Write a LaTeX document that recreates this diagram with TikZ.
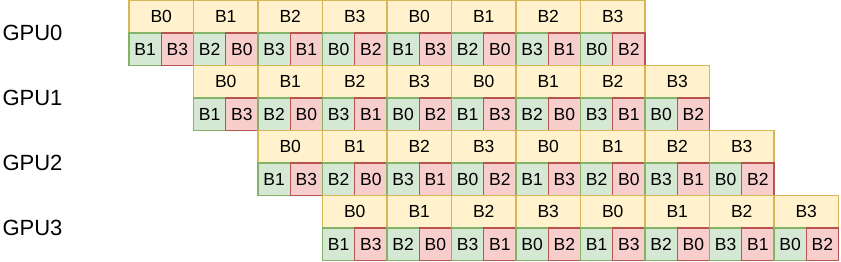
\documentclass[tikz,border=0pt]{standalone}
\usepackage{fontspec}
\setmainfont{Liberation Sans}
\definecolor{ylwfill}{HTML}{FFF2CC}
\definecolor{ylwdraw}{HTML}{D6B656}
\definecolor{grnfill}{HTML}{D5E8D4}
\definecolor{grndraw}{HTML}{82B366}
\definecolor{redfill}{HTML}{F8CECC}
\definecolor{reddraw}{HTML}{B85450}
\begin{document}
\begin{tikzpicture}[x=1pt,y=-1pt,
  cell/.style={draw, line width=1.3pt, inner sep=0pt, outer sep=0pt, anchor=north west,
    minimum height=32.5pt, font=\fontsize{17.5}{20}\selectfont},
  bigbox/.style={cell, fill=ylwfill, draw=ylwdraw, minimum width=64.5pt},
  grnbox/.style={cell, fill=grnfill, draw=grndraw, minimum width=32.25pt},
  redbox/.style={cell, fill=redfill, draw=reddraw, minimum width=32.25pt},
  gpulabel/.style={inner sep=0pt, font=\fontsize{22}{25}\selectfont}]
\useasboundingbox (0,0) rectangle (841,262);
\foreach \g in {0,...,3} {
  \node[gpulabel] (gpu\g) at (32.5, 32.5+65*\g) {GPU\g};
  \foreach \i/\b in {0/B0,1/B1,2/B2,3/B3,4/B0,5/B1,6/B2,7/B3} {
    \node[bigbox] (t\g-\i) at (129+64.5*\g+64.5*\i, 0.5+65*\g) {\b};
  }
  \foreach \i/\gb/\rb in {0/B1/B3,1/B2/B0,2/B3/B1,3/B0/B2,4/B1/B3,5/B2/B0,6/B3/B1,7/B0/B2} {
    \node[grnbox] (g\g-\i) at (129+64.5*\g+64.5*\i, 33+65*\g) {\gb};
    \node[redbox] (r\g-\i) at (161.25+64.5*\g+64.5*\i, 33+65*\g) {\rb};
  }
}
\end{tikzpicture}
\end{document}
